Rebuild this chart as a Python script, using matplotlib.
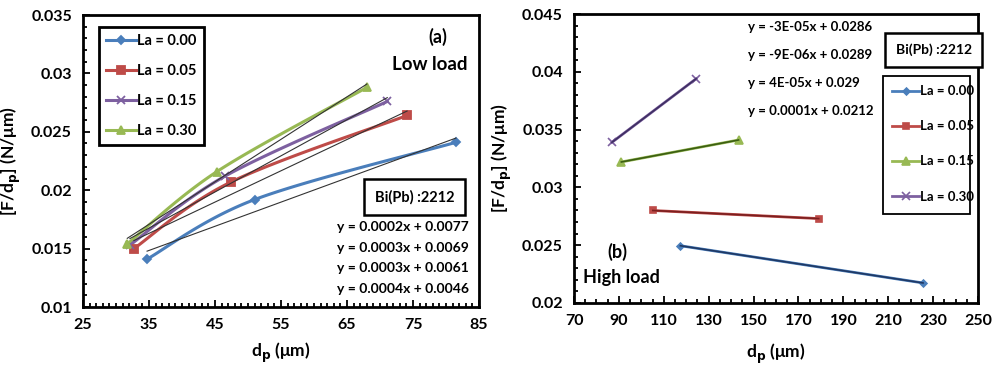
import matplotlib
matplotlib.use('Agg')
import matplotlib.pyplot as plt
import numpy as np
from matplotlib.ticker import MultipleLocator
from matplotlib.patches import Rectangle

plt.rcParams['font.family'] = ['Lato', 'DejaVu Sans']
plt.rcParams['font.weight'] = 'bold'

BLUE = '#4A7EBB'; RED = '#BE4B48'; GREEN = '#98B954'; PURPLE = '#7D60A0'

# ---- panel (a): low load ----
lo_labels = ['La = 0.00', 'La = 0.05', 'La = 0.15', 'La = 0.30']
lo_x00 = [34.7, 51.0, 81.5];   lo_y00 = [0.0141, 0.0192, 0.0241]
lo_x05 = [32.7, 47.4, 74.1];   lo_y05 = [0.0150, 0.0207, 0.0264]
lo_x15 = [32.1, 46.5, 71.1];   lo_y15 = [0.0153, 0.0212, 0.0276]
lo_x30 = [31.7, 45.3, 68.0];   lo_y30 = [0.0154, 0.0216, 0.0288]
lo_eqs = ['y = 0.0002x + 0.0077', 'y = 0.0003x + 0.0069',
          'y = 0.0003x + 0.0061', 'y = 0.0004x + 0.0046']
lo_xticks = [25, 35, 45, 55, 65, 75, 85]
lo_yticks = [0.01, 0.015, 0.02, 0.025, 0.03, 0.035]

# ---- panel (b): high load ----
hi_labels = ['La = 0.00', 'La = 0.05', 'La = 0.15', 'La = 0.30']
hi_x00 = [117.4, 225.5]; hi_y00 = [0.02495, 0.02173]
hi_x05 = [105.1, 179.0]; hi_y05 = [0.0280, 0.0273]
hi_x15 = [91.1, 143.3];  hi_y15 = [0.0322, 0.0341]
hi_x30 = [86.9, 124.4];  hi_y30 = [0.0339, 0.0394]
hi_eqs = ['y = -3E-05x + 0.0286', 'y = -9E-06x + 0.0289',
          'y = 4E-05x + 0.029', 'y = 0.0001x + 0.0212']
hi_xticks = [70, 90, 110, 130, 150, 170, 190, 210, 230, 250]
hi_yticks = [0.02, 0.025, 0.03, 0.035, 0.04, 0.045]

fig = plt.figure(figsize=(10.03, 3.69), dpi=100, facecolor='white')
ax1 = fig.add_axes([0.0828, 0.168, 0.3948, 0.7913])
ax2 = fig.add_axes([0.5723, 0.179, 0.4028, 0.783])


def style(ax):
    for s in ax.spines.values():
        s.set_linewidth(2.0)
    ax.tick_params(which='both', direction='in', top=False, right=False,
                   labelsize=11.5, width=1.3, pad=8)
    ax.tick_params(which='major', length=5)
    ax.tick_params(which='minor', length=3)
    for t in ax.get_xticklabels() + ax.get_yticklabels():
        t.set_fontweight('bold')


def smooth(xs, ys, n=40):
    # Excel-like smoothed line: cubic Bezier segments through the points
    P = np.column_stack([xs, ys])
    Pe = np.vstack([P[0], P, P[-1]])
    out = []
    t = np.linspace(0, 1, n)[:, None]
    for i in range(len(P) - 1):
        p0, p3 = P[i], P[i + 1]
        c1 = p0 + (Pe[i + 2] - Pe[i]) / 6
        c2 = p3 - (Pe[i + 3] - Pe[i + 1]) / 6
        seg = ((1 - t) ** 3) * p0 + 3 * ((1 - t) ** 2) * t * c1 + 3 * (1 - t) * t ** 2 * c2 + t ** 3 * p3
        out.append(seg)
    s = np.vstack(out)
    return s[:, 0], s[:, 1]


# panel (a)
series_a = [(lo_x00, lo_y00, BLUE, 'D', 4),
            (lo_x05, lo_y05, RED, 's', 5.5),
            (lo_x15, lo_y15, PURPLE, 'x', 6),
            (lo_x30, lo_y30, GREEN, '^', 6)]
for (xs, ys, c, m, ms), lab in zip(series_a, lo_labels):
    xs = np.array(xs); ys = np.array(ys)
    sx, sy = smooth(xs, ys)
    ax1.plot(sx, sy, color=c, lw=2.2, zorder=3)
    ax1.plot(xs, ys, ls='none', marker=m, color=c, ms=ms, mew=1.3, zorder=4)
    ax1.plot([], [], color=c, marker=m, ms=ms, mew=1.3, lw=2.2, label=lab)
    p = np.polyfit(xs, ys, 1)
    ax1.plot(xs[[0, -1]], np.polyval(p, xs[[0, -1]]), color='#333333', lw=0.8, zorder=5)

ax1.set_xlim(25, 85); ax1.set_ylim(0.01, 0.035)
ax1.set_xticks(lo_xticks); ax1.xaxis.set_minor_locator(MultipleLocator(1))
ax1.set_yticks(lo_yticks)
ax1.set_yticklabels([f'{v:g}' for v in lo_yticks])
ax1.yaxis.set_minor_locator(MultipleLocator(0.001))
style(ax1)
ax1.set_xlabel('d$_\\mathbf{p}$ (μm)', fontsize=12.5, fontweight='bold', labelpad=6)
ax1.set_ylabel('[F/d$_\\mathbf{p}$] (N/μm)', fontsize=12.5, fontweight='bold', labelpad=6)
leg1 = ax1.legend(loc='upper left', bbox_to_anchor=(0.022, 0.985), fontsize=10.5,
                  handlelength=2.0, handletextpad=0.1, labelspacing=1.1,
                  borderpad=0.5, fancybox=False, framealpha=1, edgecolor='black')
leg1.get_frame().set_linewidth(2)
ax1.text(0.895, 0.925, '(a)', transform=ax1.transAxes, fontsize=13, ha='center', va='center')
ax1.text(0.875, 0.83, 'Low load', transform=ax1.transAxes, fontsize=13.5, ha='center', va='center')
ax1.text(0.8375, 0.377, 'Bi(Pb) :2212', transform=ax1.transAxes, fontsize=10.5, ha='center',
         va='center',
         bbox=dict(boxstyle='square,pad=0.75', facecolor='white', edgecolor='black', linewidth=1.8))
for i, eq in enumerate(lo_eqs):
    ax1.text(0.975, 0.274 - i * 0.071, eq, transform=ax1.transAxes, fontsize=10,
             ha='right', va='center')

# panel (b)
dark = {BLUE: '#1F3864', RED: '#7B1F1F', GREEN: '#3B5E12', PURPLE: '#3F2F63'}
series_b = [(hi_x00, hi_y00, BLUE, 'D', 3.5),
            (hi_x05, hi_y05, RED, 's', 5),
            (hi_x15, hi_y15, GREEN, '^', 5.5),
            (hi_x30, hi_y30, PURPLE, 'x', 6)]
for (xs, ys, c, m, ms), lab in zip(series_b, hi_labels):
    xs = np.array(xs); ys = np.array(ys)
    ax2.plot(xs, ys, color=c, lw=2.0, marker=m, ms=ms, mew=1.2, label=lab, zorder=3)
    p = np.polyfit(xs, ys, 1)
    ax2.plot(xs, np.polyval(p, xs), color=dark[c], lw=1.2, zorder=4)

ax2.set_xlim(70, 250); ax2.set_ylim(0.02, 0.045)
ax2.set_xticks(hi_xticks); ax2.xaxis.set_minor_locator(MultipleLocator(5))
ax2.set_yticks(hi_yticks)
ax2.set_yticklabels([f'{v:g}' for v in hi_yticks])
ax2.yaxis.set_minor_locator(MultipleLocator(0.001))
style(ax2)
ax2.set_xlabel('d$_\\mathbf{p}$ (μm)', fontsize=12.5, fontweight='bold', labelpad=10)
ax2.set_ylabel('[F/d$_\\mathbf{p}$] (N/μm)', fontsize=12.5, fontweight='bold', labelpad=6)
leg2 = ax2.legend(loc='upper left', bbox_to_anchor=(0.762, 0.79), fontsize=9.5,
                  handlelength=2.0, handletextpad=0.1, labelspacing=1.75,
                  borderpad=0.3, frameon=False)
ax2.add_patch(Rectangle((0.765, 0.308), 0.215, 0.477, transform=ax2.transAxes,
                        fill=False, edgecolor='black', lw=1.3, zorder=5))
ax2.text(0.89, 0.875, 'Bi(Pb) :2212', transform=ax2.transAxes, fontsize=10, ha='center', va='center',
         bbox=dict(boxstyle='square,pad=0.75', facecolor='white', edgecolor='black', linewidth=1.8))
for i, eq in enumerate(hi_eqs):
    ax2.text(0.43, 0.955 - i * 0.097, eq, transform=ax2.transAxes, fontsize=9.5,
             ha='left', va='center')
ax2.text(0.108, 0.178, '(b)', transform=ax2.transAxes, fontsize=13, ha='center', va='center')
ax2.text(0.118, 0.087, 'High load', transform=ax2.transAxes, fontsize=13, ha='center', va='center')

fig.savefig('out.png', dpi=100, facecolor='white')
